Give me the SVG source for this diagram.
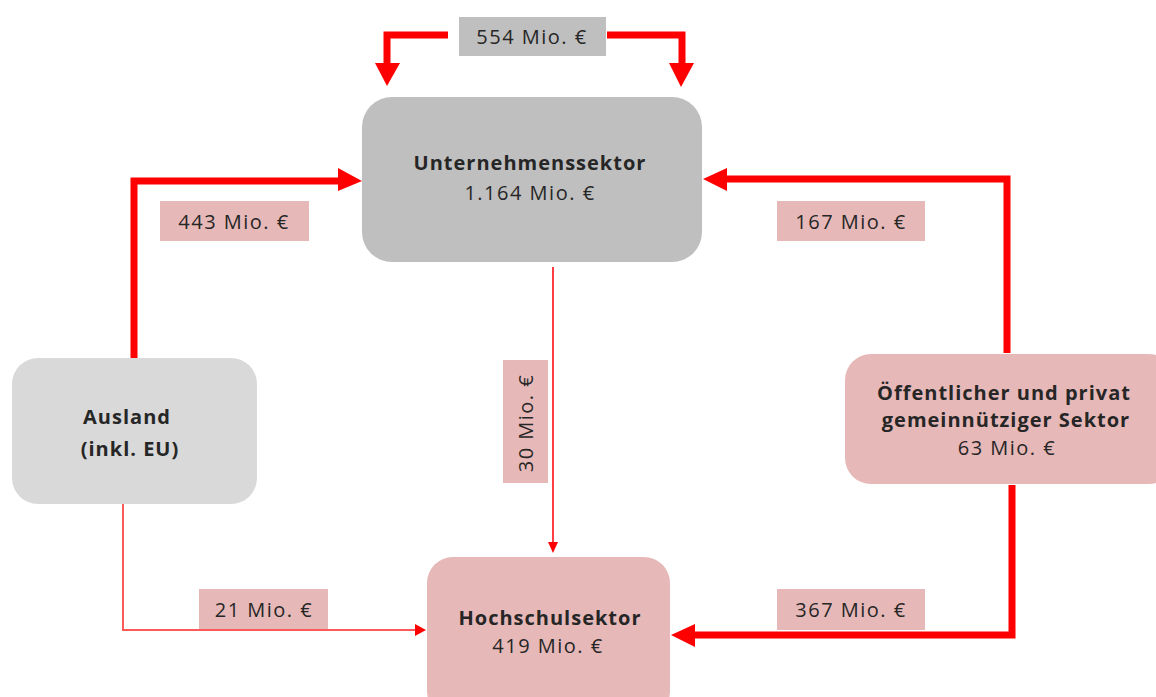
<svg xmlns="http://www.w3.org/2000/svg" width="1156" height="697" viewBox="0 0 1156 697">
<style>
text{font-family:"Open Sans","Liberation Sans",sans-serif;fill:#262626;text-anchor:middle}
.t{font-size:20px;letter-spacing:1.5px}
.b{font-weight:bold;letter-spacing:1px}
.thick{fill:none;stroke:#ff0000;stroke-width:7;stroke-linejoin:miter}
.thin{fill:none;stroke:#ff0000;stroke-width:1.5}
.lt{fill:none;stroke:#ff5a5a;stroke-width:2}
.lbl{fill:#e6b9b8}
.ah{fill:#ff0000}
</style>
<rect width="1156" height="697" fill="#ffffff"/>
<g id="connectors">
  <!-- 554 loop -->
  <polyline class="thick" points="448,35 387,35 387,66"/>
  <polygon class="ah" points="375,63 400,63 387,86"/>
  <polyline class="thick" points="607,35 682,35 682,66"/>
  <polygon class="ah" points="669,63 694,63 681,87"/>
  <rect x="459" y="17" width="147" height="39" fill="#bfbfbf"/>
  <text class="t" x="532" y="44">554 Mio. €</text>
  <!-- 443 -->
  <polyline class="thick" points="134,358 134,181 340,181"/>
  <polygon class="ah" points="338,168 362,181 338,191"/>
  <rect class="lbl" x="160" y="201" width="149" height="40"/>
  <text class="t" x="234" y="229">443 Mio. €</text>
  <!-- 167 -->
  <polyline class="thick" points="1007,353 1007,179 725,179"/>
  <polygon class="ah" points="727,168 703,179 727,191"/>
  <rect class="lbl" x="777" y="201" width="148" height="40"/>
  <text class="t" x="851" y="229">167 Mio. €</text>
  <!-- 30 -->
  <line class="thin" x1="553" y1="267" x2="553" y2="544"/>
  <polygon class="ah" points="548,542 558,542 553,553"/>
  <rect class="lbl" x="503" y="360" width="45" height="123"/>
  <text class="t" transform="translate(533,423) rotate(-90)">30 Mio. €</text>
  <!-- 21 -->
  <polyline class="lt" points="123,504 123,630 416,630"/>
  <polygon class="ah" points="415,624 426,630 415,636"/>
  <rect class="lbl" x="199" y="589" width="129" height="40"/>
  <text class="t" x="264" y="617">21 Mio. €</text>
  <!-- 367 -->
  <polyline class="thick" points="1012,485 1012,635 693,635"/>
  <polygon class="ah" points="695,624 671,635 695,647"/>
  <rect class="lbl" x="777" y="589" width="148" height="41"/>
  <text class="t" x="851" y="617">367 Mio. €</text>
</g>
<g id="unternehmen">
  <rect x="362" y="97" width="340" height="165" rx="30" fill="#bfbfbf"/>
  <text class="t b" x="530" y="170">Unternehmenssektor</text>
  <text class="t" x="530" y="200">1.164 Mio. €</text>
</g>
<g id="ausland">
  <rect x="12" y="358" width="245" height="146" rx="26" fill="#d9d9d9"/>
  <text class="t b" x="127" y="424">Ausland</text>
  <text class="t b" x="130" y="456">(inkl. EU)</text>
</g>
<g id="oeffentlich">
  <rect x="845" y="354" width="330" height="130" rx="26" fill="#e6b9b8"/>
  <text class="t b" x="1004" y="400">Öffentlicher und privat</text>
  <text class="t b" x="1006" y="427">gemeinnütziger Sektor</text>
  <text class="t" x="1007" y="455">63 Mio. €</text>
</g>
<g id="hochschul">
  <rect x="427" y="557" width="243" height="160" rx="26" fill="#e6b9b8"/>
  <text class="t b" x="550" y="625">Hochschulsektor</text>
  <text class="t" x="548" y="653">419 Mio. €</text>
</g>
</svg>
